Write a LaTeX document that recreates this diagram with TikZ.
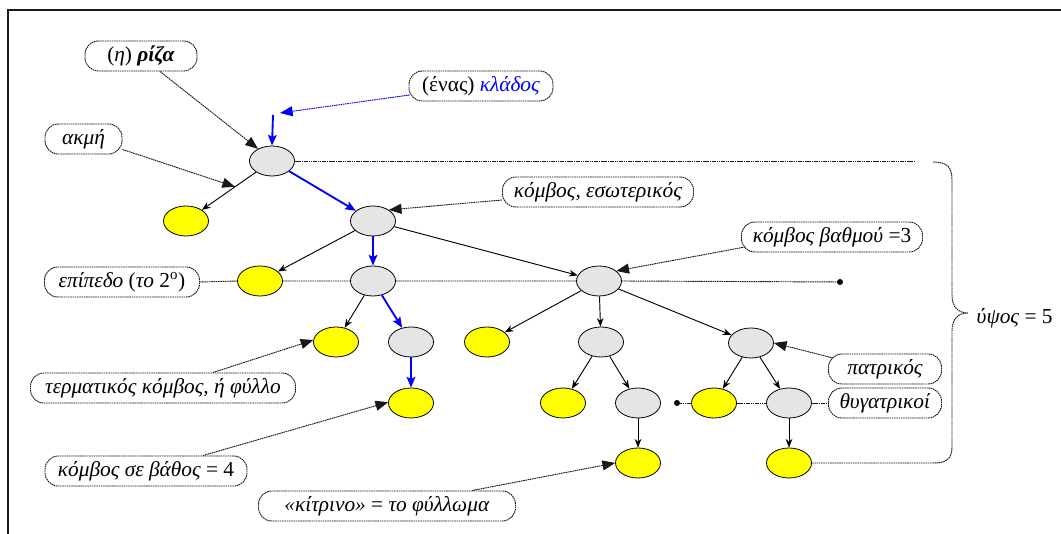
\documentclass[tikz,border=0pt]{standalone}
\usepackage{fontspec}
\setmainfont{Liberation Serif}
\usetikzlibrary{shapes.geometric,arrows.meta,calc}

\definecolor{nodegray}{HTML}{E5E5E5}
\definecolor{leafyellow}{HTML}{FFFF00}
\definecolor{branchblue}{HTML}{0000FF}

\tikzset{
  treenode/.style={ellipse, draw=black, line width=0.6pt, minimum width=33.75pt,
    minimum height=22.5pt, inner sep=0pt},
  gnode/.style={treenode, fill=nodegray},
  ynode/.style={treenode, fill=leafyellow},
  dotn/.style={circle, fill=black, inner sep=0pt, minimum size=4.5pt},
  lbl/.style={rectangle, rounded corners=10pt, draw=black!90, line width=0.7pt,
    dash pattern=on 1.2pt off 0.5pt, minimum height=22.5pt, inner xsep=3pt,
    inner ysep=0pt, font=\fontsize{16}{19}\selectfont},
  tarrow/.style={draw=black, line width=0.7pt, -{Stealth[length=6.5pt,width=5pt]}},
  barrow/.style={draw=branchblue, line width=1.4pt, -{Stealth[length=8pt,width=6.5pt,inset=1.5pt]}},
  dotline/.style={draw=black!90, line width=0.7pt, dash pattern=on 1.2pt off 0.5pt},
  annot/.style={dotline, -{Triangle[length=9.5pt,width=7.5pt]}},
  bannot/.style={draw=branchblue, line width=0.7pt, dash pattern=on 1.2pt off 0.5pt,
    -{Triangle[length=9.5pt,width=7.5pt]}},
  frameline/.style={draw=black!90, line width=1.5pt}
}

\begin{document}
\begin{tikzpicture}[x=0.75pt,y=-0.75pt]
\useasboundingbox (0,0) rectangle (1061,534);
\fill[white] (0,0) rectangle (1061,534);

% outer frame (top and left edges)
\draw[frameline] (8,534) -- (8,10) -- (1061,10);

% tree nodes
\node[gnode] (R) at (272,161) {};
\node[ynode] (A) at (186,221) {};
\node[gnode] (B) at (373,221) {};
\node[ynode] (C) at (260,281) {};
\node[gnode] (D) at (373,281) {};
\node[gnode] (E) at (599,281) {};
\node[ynode] (F) at (336,342) {};
\node[gnode] (G) at (411,342) {};
\node[ynode] (H) at (487,342) {};
\node[gnode] (I) at (601,342) {};
\node[gnode] (J) at (751,343) {};
\node[ynode] (K) at (411,403) {};
\node[ynode] (L) at (563,403) {};
\node[gnode] (M) at (638,403) {};
\node[ynode] (N) at (714,403) {};
\node[gnode] (O) at (789,403) {};
\node[ynode] (P) at (638,463) {};
\node[ynode] (Q) at (789,463) {};

% labels
\node[lbl, minimum width=84pt]     (riza)  at (141,56)  {(\textit{η}) \textbf{\textit{ρίζα}}};
\node[lbl, minimum width=57.75pt]  (akmi)  at (83.5,139) {\textit{ακμή}};
\node[lbl, minimum width=108pt]    (klados) at (481,86) {(ένας) \textcolor{branchblue}{\textit{κλάδος}}};
\node[lbl, minimum width=143.25pt] (esot)  at (598,192) {\textit{κόμβος, εσωτερικός}};
\node[lbl, minimum width=135.75pt] (vathm) at (832,237) {\textit{κόμβος βαθμού} =3};
\node[lbl, minimum width=116.25pt] (epip)  at (122,282) {\textit{επίπεδο} (\textit{το} 2\textsuperscript{ο})};
\node[lbl, minimum width=198.75pt] (term)  at (163,388) {\textit{τερματικός κόμβος, ή φύλλο}};
\node[lbl, minimum width=151.5pt]  (vathos) at (146,471) {\textit{κόμβος σε βάθος} = 4};
\node[lbl, minimum width=192.75pt] (kitr)  at (387,506) {\textit{«κίτρινο»} = \textit{το φύλλωμα}};
\node[lbl, minimum width=84.75pt]  (patr)  at (885,369) {\textit{πατρικός}};
\node[lbl, minimum width=84.75pt]  (thyg)  at (885,403) {\textit{θυγατρικοί}};
\node[anchor=west, font=\fontsize{16}{19}\selectfont] (ypsos) at (972,318) {\textit{ύψος} = 5};

% free ends
\coordinate (ktop) at (273,115);
\coordinate (kl) at (280,113);
\coordinate (topend) at (915,161);
\node[dotn] (dot1) at (840,282) {};
\node[dotn] (dot2) at (677,403) {};

% edges of the tree
\draw[tarrow] (R) -- (A);
\draw[barrow] (R) -- (B);
\draw[tarrow] (B) -- (C);
\draw[barrow] (B) -- (D);
\draw[tarrow] (B) -- (E);
\draw[tarrow] (D) -- (F);
\draw[barrow] (D) -- (G);
\draw[barrow] (G) -- (K);
\draw[tarrow] (E) -- (H);
\draw[tarrow] (E) -- (I);
\draw[tarrow] (E) -- (J);
\draw[tarrow] (I) -- (L);
\draw[tarrow] (I) -- (M);
\draw[tarrow] (M) -- (P);
\draw[tarrow] (J) -- (N);
\draw[tarrow] (J) -- (O);
\draw[tarrow] (O) -- (Q);
\draw[barrow] (ktop) -- (R.north);

% level guide lines
\draw[dotline] (R.east) -- (topend);
\draw[dotline] (epip.east) -- (C.west) (C.east) -- (D.west) (D.east) -- (E.west) (E.east) -- (dot1);
\draw[dotline] (dot2) -- (N.west) (N.east) -- (O.west) (O.east) -- (thyg.west);

% height brace
\draw[dotline] (933,162) .. controls (947,162) and (952,167) .. (952,180) -- (952,295)
  .. controls (952,307) and (958,313) .. (968,313)
  .. controls (958,313) and (952,319) .. (952,331) -- (952,447)
  .. controls (952,459) and (946,463) .. (934,463) -- (Q.east);

% annotation arrows
\draw[annot] ($(riza.south)+(19,0)$) -- (R.139);
\draw[annot] (akmi.-15) -- ($(R)!0.43!(A)$);
\draw[bannot] ($(klados.west)+(1,9)$) -- (kl);
\draw[annot] ($(esot.west)+(0,8)$) -- (B.35);
\draw[annot] ($(vathm.west)+(4,10)$) -- (E.30);
\draw[annot] ($(term.north)+(50,0)$) -- (F.175);
\draw[annot] ($(vathos.north)+(57,0)$) -- (K.178);
\draw[annot] ($(kitr.north)+(85,0)$) -- (P.west);
\draw[annot] ($(patr.west)+(5,-11)$) -- (J.east);
\end{tikzpicture}
\end{document}
